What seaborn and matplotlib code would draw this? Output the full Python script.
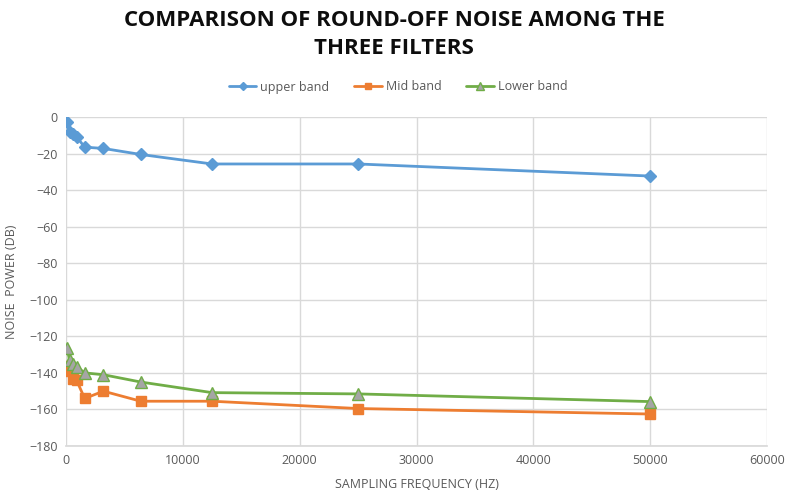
import matplotlib
matplotlib.use("Agg")
import matplotlib.pyplot as plt
import seaborn as sns
import pandas as pd

freq = [100, 300, 600, 900, 1600, 3200, 6400, 12500, 25000, 50000]
upper_band = [-3, -8, -9.5, -10.8, -16.5, -17.2, -20.5, -25.7, -25.7, -32.3]
mid_band = [-136, -139, -143.5, -144, -154, -150, -155.5, -155.5, -159.5, -162.5]
lower_band = [-126.5, -133, -135, -136.6, -140, -141, -145, -150.8, -151.5, -155.7]

series_names = ["upper band", "Mid band", "Lower band"]
title_lines = ["COMPARISON OF ROUND-OFF NOISE AMONG THE", "THREE FILTERS"]
xlabel = "SAMPLING FREQUENCY (HZ)"
ylabel = "NOISE  POWER (DB)"

df = pd.DataFrame({"freq": freq * 3,
                   "value": upper_band + mid_band + lower_band,
                   "series": [series_names[0]] * len(freq) + [series_names[1]] * len(freq) + [series_names[2]] * len(freq)})

sns.set_theme(style="white")
plt.rcParams['font.family'] = ['Open Sans', 'DejaVu Sans']

fig = plt.figure(figsize=(7.88, 4.93), dpi=100)
ax = fig.add_axes([66/788, 1 - 446/493, (767-66)/788, (446-117)/493])

styles = {
    "upper band": dict(color="#5B9BD5", marker="D", markersize=6, mfc="#5B9BD5", mec="#5B9BD5"),
    "Mid band": dict(color="#ED7D31", marker="s", markersize=6.5, mfc="#ED7D31", mec="#ED7D31"),
    "Lower band": dict(color="#70AD47", marker="^", markersize=8, mfc="#A5A5A5", mec="#70AD47"),
}
for name in series_names:
    st = styles[name]
    sns.lineplot(data=df[df["series"] == name], x="freq", y="value", ax=ax,
                 color=st["color"], marker=st["marker"], markersize=st["markersize"],
                 markerfacecolor=st["mfc"], markeredgecolor=st["mec"], markeredgewidth=1,
                 linewidth=2, label=name, estimator=None, sort=False)

ax.set_xlim(0, 60000)
ax.set_ylim(-180, 0)
ax.set_xticks(range(0, 60001, 10000))
ax.set_yticks(range(-180, 1, 20))
ax.grid(True, color="#D9D9D9", linewidth=1)
for s in ["top", "right", "left"]:
    ax.spines[s].set_visible(False)
ax.spines["bottom"].set_color("#D9D9D9")
ax.tick_params(axis="both", colors="#595959", labelsize=9, length=0, pad=6)
ax.set_xlabel(xlabel, color="#595959", fontsize=9, labelpad=8)
ax.set_ylabel(ylabel, color="#595959", fontsize=9, labelpad=8)

for i, line in enumerate(title_lines):
    fig.text(0.5, 1 - (20 + 28 * i) / 493, line, ha="center", va="center", fontsize=16,
             fontweight="bold", color="#0D0D0D")

leg = ax.legend(loc="center", bbox_to_anchor=(398/788, 1 - 87/493), bbox_transform=fig.transFigure,
                ncol=3, frameon=False, fontsize=9, handlelength=2.2, columnspacing=2.0,
                handletextpad=0.3, markerscale=0.7)
for t in leg.get_texts():
    t.set_color("#595959")

fig.savefig("out.png", dpi=100)
